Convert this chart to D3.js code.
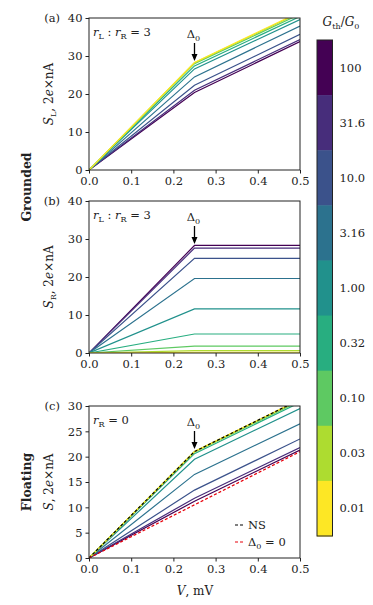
<!DOCTYPE html>
<html><head><meta charset="utf-8">
<script src="https://cdn.jsdelivr.net/npm/d3@7"></script>
<style>
body{margin:0;background:#fff;}
svg text{font-family:"DejaVu Serif","Liberation Serif",serif !important;}
</style></head>
<body><svg id="c" width="373" height="605"></svg>
<script>
// ---- data ----
const V = [0, 0.25, 0.5];
const gLabels = ["100", "31.6", "10.0", "3.16", "1.00", "0.32", "0.10", "0.03", "0.01"];
// panel (a): S_L at V = 0, 0.25, 0.5 (order as gLabels)
const SL = [
  [0, 20.4, 33.8], [0, 21.0, 34.3], [0, 22.3, 35.7], [0, 24.5, 37.9],
  [0, 26.6, 39.6], [0, 27.4, 40.4], [0, 28.0, 41.0], [0, 28.2, 41.4], [0, 28.3, 41.6]
];
// panel (b): S_R
const SR = [
  [0, 28.3, 28.3], [0, 27.6, 27.6], [0, 24.9, 24.9], [0, 19.6, 19.6],
  [0, 11.6, 11.6], [0, 5.0, 5.0], [0, 1.8, 1.8], [0, 0.6, 0.6], [0, 0.2, 0.2]
];
// panel (c): S (floating)
const SF = [
  [0, 11.2, 21.3], [0, 11.8, 21.8], [0, 13.4, 23.5], [0, 16.5, 26.5],
  [0, 19.5, 29.5], [0, 20.6, 30.7], [0, 20.9, 31.0], [0, 21.0, 31.2], [0, 21.0, 31.3]
];
const NS = [0, 21.0, 31.3];
const D0 = [0, 10.5, 21.0];
const xTicks = [0, 0.1, 0.2, 0.3, 0.4, 0.5];
const yTicksAB = [0, 10, 20, 30, 40];
const yTicksC = [0, 5, 10, 15, 20, 25, 30];

// ---- drawing ----
const svg = d3.select("#c");
const FS = 11.5;
const x = d3.scaleLinear().domain([0, 0.5]).range([89, 300]);
const color = i => d3.interpolateViridis(i / (gLabels.length - 1));

function panel(id, top, bottom, ymax, yt, series, letter, ylab, note) {
  const y = d3.scaleLinear().domain([0, ymax]).range([bottom, top]);
  const g = svg.append("g");
  const cp = svg.append("clipPath").attr("id", "cp" + id);
  cp.append("rect").attr("x", x(0)).attr("y", top).attr("width", x(0.5) - x(0)).attr("height", bottom - top);
  const lg = g.append("g").attr("clip-path", "url(#cp" + id + ")");
  const line = d3.line().x((d, i) => x(V[i])).y(d => y(d));
  series.forEach((s, i) => {
    lg.append("path").attr("d", line(s)).attr("fill", "none")
      .attr("stroke", color(i)).attr("stroke-width", 1.2);
  });
  const ax = g.append("g").attr("transform", `translate(0,${bottom})`)
    .call(d3.axisBottom(x).tickValues(xTicks).tickFormat(d3.format(".1f")).tickSize(3.5).tickPadding(3));
  const ay = g.append("g").attr("transform", `translate(${x(0)},0)`)
    .call(d3.axisLeft(y).tickValues(yt).tickSize(3.5).tickPadding(3));
  [ax, ay].forEach(a => {
    a.attr("font-family", null).attr("font-size", null);
    a.select(".domain").remove();
    a.selectAll("text").attr("font-size", FS).attr("fill", "#222");
    a.selectAll("line").attr("stroke", "#222");
  });
  g.append("rect").attr("x", x(0)).attr("y", top).attr("width", x(0.5) - x(0)).attr("height", bottom - top)
    .attr("fill", "none").attr("stroke", "#222").attr("stroke-width", 1);
  g.append("text").attr("x", 60).attr("y", top + 4).attr("text-anchor", "end")
    .attr("font-size", FS).attr("fill", "#222").text(letter);
  const yl = g.append("text").attr("transform", `translate(53,${(top + bottom) / 2}) rotate(-90)`)
    .attr("text-anchor", "middle").attr("font-size", FS + 0.5).attr("fill", "#222");
  yl.append("tspan").attr("font-style", "italic").text("S");
  if (ylab) yl.append("tspan").attr("font-size", FS * 0.7).attr("dy", 3).text(ylab);
  yl.append("tspan").attr("dy", ylab ? -3 : 0).text(", 2");
  yl.append("tspan").attr("font-style", "italic").text("e");
  yl.append("tspan").text("×nA");
  const nt = g.append("text").attr("x", 93).attr("y", top + 18).attr("font-size", FS).attr("fill", "#222");
  note(nt);
  const xd = x(0.25);
  const dt = g.append("text").attr("x", xd - 1).attr("y", top + 20).attr("text-anchor", "middle").attr("font-size", FS).attr("fill", "#222");
  dt.append("tspan").text("Δ");
  dt.append("tspan").attr("font-size", FS * 0.7).attr("dy", 3).text("0");
  g.append("line").attr("x1", xd).attr("x2", xd).attr("y1", top + 25).attr("y2", top + 38)
    .attr("stroke", "#000").attr("stroke-width", 1.3);
  g.append("path").attr("d", `M${xd - 3},${top + 36} L${xd + 3},${top + 36} L${xd},${top + 43} Z`).attr("fill", "#000");
  return { g, y, lg, line };
}

function noteRatio(t) {
  t.append("tspan").attr("font-style", "italic").text("r");
  t.append("tspan").attr("font-size", FS * 0.7).attr("dy", 3).text("L");
  t.append("tspan").attr("dy", -3).text(" : ");
  t.append("tspan").attr("font-style", "italic").text("r");
  t.append("tspan").attr("font-size", FS * 0.7).attr("dy", 3).text("R");
  t.append("tspan").attr("dy", -3).text(" = 3");
}
function noteR0(t) {
  t.append("tspan").attr("font-style", "italic").text("r");
  t.append("tspan").attr("font-size", FS * 0.7).attr("dy", 3).text("R");
  t.append("tspan").attr("dy", -3).text(" = 0");
}

panel("a", 18, 170, 40, yTicksAB, SL, "(a)", "L", noteRatio);
panel("b", 201, 353, 40, yTicksAB, SR, "(b)", "R", noteRatio);
const pc = panel("c", 406, 558, 30, yTicksC, SF, "(c)", null, noteR0);
pc.lg.append("path").attr("d", pc.line(NS)).attr("fill", "none").attr("stroke", "#000")
  .attr("stroke-width", 1.2).attr("stroke-dasharray", "3,2");
pc.lg.append("path").attr("d", pc.line(D0)).attr("fill", "none").attr("stroke", "#e8000b")
  .attr("stroke-width", 1.2).attr("stroke-dasharray", "3,2");

const legItems = [{ c: "#000", y: 525 }, { c: "#e8000b", y: 542 }];
legItems.forEach((d, i) => {
  svg.append("line").attr("x1", 235).attr("x2", 245).attr("y1", d.y).attr("y2", d.y)
    .attr("stroke", d.c).attr("stroke-width", 1.2).attr("stroke-dasharray", "3,2");
  const t = svg.append("text").attr("x", 248).attr("y", d.y + 4).attr("font-size", FS).attr("fill", "#222");
  if (i === 0) t.text("NS");
  else {
    t.append("tspan").text("Δ");
    t.append("tspan").attr("font-size", FS * 0.7).attr("dy", 3).text("0");
    t.append("tspan").attr("dy", -3).text(" = 0");
  }
});

svg.append("text").attr("transform", "translate(31,187) rotate(-90)").attr("text-anchor", "middle")
  .attr("font-size", 12.5).attr("font-weight", "bold").attr("fill", "#222").text("Grounded");
svg.append("text").attr("transform", "translate(31,482) rotate(-90)").attr("text-anchor", "middle")
  .attr("font-size", 12.5).attr("font-weight", "bold").attr("fill", "#222").text("Floating");

const xl = svg.append("text").attr("x", 195).attr("y", 595).attr("text-anchor", "middle").attr("font-size", FS + 0.5).attr("fill", "#222");
xl.append("tspan").attr("font-style", "italic").text("V");
xl.append("tspan").text(", mV");

const cbTop = 40, cbBot = 536, cbX = 317, cbW = 15.5;
const cy = d3.scaleBand().domain(gLabels).range([cbTop, cbBot]);
const cb = svg.append("g");
gLabels.forEach((l, i) => {
  cb.append("rect").attr("x", cbX).attr("y", cy(l)).attr("width", cbW).attr("height", cy.bandwidth() + 0.5)
    .attr("fill", color(i));
  cb.append("text").attr("x", cbX + cbW + 7).attr("y", cy(l) + cy.bandwidth() / 2 + 4)
    .attr("font-size", FS).attr("fill", "#222").text(l);
});
cb.append("rect").attr("x", cbX).attr("y", cbTop).attr("width", cbW).attr("height", cbBot - cbTop)
  .attr("fill", "none").attr("stroke", "#222").attr("stroke-width", 1);
const ct = svg.append("text").attr("x", 341).attr("y", 26).attr("text-anchor", "middle").attr("font-size", FS + 0.5).attr("fill", "#222");
ct.append("tspan").attr("font-style", "italic").text("G");
ct.append("tspan").attr("font-size", FS * 0.7).attr("dy", 3).text("th");
ct.append("tspan").attr("dy", -3).text("/");
ct.append("tspan").attr("font-style", "italic").text("G");
ct.append("tspan").attr("font-size", FS * 0.7).attr("dy", 3).text("0");
</script></body></html>
